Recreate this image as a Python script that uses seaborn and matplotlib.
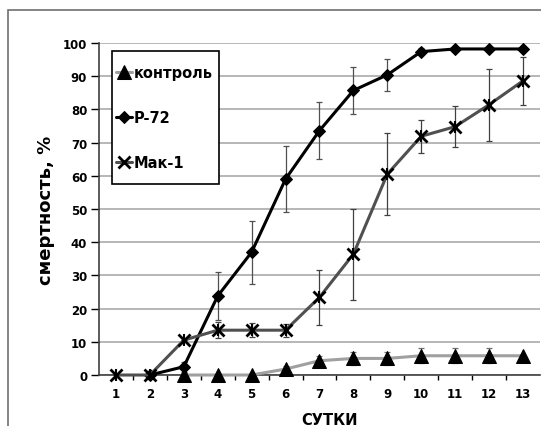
import numpy as np
import seaborn as sns
import matplotlib.pyplot as plt
from matplotlib.patches import Rectangle

sns.set_theme(style="white")
plt.rcParams['font.family'] = ['DejaVu Sans']
plt.rcParams['font.weight'] = 'bold'
plt.rcParams['text.color'] = 'black'
plt.rcParams['axes.labelcolor'] = 'black'
plt.rcParams['xtick.color'] = 'black'
plt.rcParams['ytick.color'] = 'black'

days = list(range(1, 14))
control = [np.nan, np.nan, 0, 0, 0, 1.8, 4.3, 5.0, 5.0, 5.8, 5.8, 5.8, 5.8]
control_err = [np.nan, np.nan, 0, 0, 0, 1.0, 1.5, 2.0, 2.0, 2.2, 2.2, 2.2, 0]
p72 = [np.nan, 0, 2.5, 23.8, 37.0, 59.0, 73.6, 85.7, 90.4, 97.4, 98.2, 98.2, 98.2]
p72_err = [np.nan, 0, 1.5, 7.2, 9.5, 10.0, 8.5, 7.0, 4.8, 1.0, 0, 0, 0]
mak1 = [0, 0, 10.5, 13.5, 13.5, 13.5, 23.4, 36.4, 60.5, 71.9, 74.8, 81.4, 88.6]
mak1_err = [0, 0, 0, 2.5, 2.2, 2.0, 8.3, 13.7, 12.3, 5.0, 6.2, 10.8, 7.3]

labels = ["контроль", "P-72", "Мак-1"]

fig = plt.figure(figsize=(5.41, 4.27), dpi=100)
ax = fig.add_axes([0.183, 0.1194, 0.815, 0.7776])

# outer chart frame
fig.add_artist(Rectangle((8 / 541, -0.1), 1.2, 1.1 - 11 / 427, transform=fig.transFigure,
                         fill=False, edgecolor="#707070", linewidth=1.2))

for y, e, c in [(control, control_err, "#707070"), (p72, p72_err, "#505050"), (mak1, mak1_err, "#404040")]:
    ax.errorbar(days, y, yerr=e, fmt="none", ecolor=c, elinewidth=0.9, capsize=2.5, capthick=0.9, zorder=2)

sns.lineplot(x=days, y=control, ax=ax, color="#a0a0a0", linewidth=2.2, marker="^",
             markersize=10, markerfacecolor="black", markeredgecolor="black", label=labels[0],
             zorder=3, clip_on=False)
sns.lineplot(x=days, y=p72, ax=ax, color="black", linewidth=2.2, marker="D",
             markersize=6.5, markerfacecolor="black", markeredgecolor="black", label=labels[1],
             zorder=4, clip_on=False)
sns.lineplot(x=days, y=mak1, ax=ax, color="#505050", linewidth=2.2, marker="x",
             markersize=8, markeredgewidth=2, markeredgecolor="black", label=labels[2],
             zorder=5, clip_on=False)
ax.plot(days, mak1, linestyle="none", marker="|", markersize=8, markeredgewidth=1.5,
        color="black", zorder=5, clip_on=False)

ax.set_xlim(0.5, 13.5)
ax.set_ylim(0, 100)
ax.set_xticks(days)
ax.set_xticks(np.arange(1.5, 13.5, 1), minor=True)
ax.set_yticks(range(0, 101, 10))
ax.yaxis.grid(True, color="#aaaaaa", linewidth=1.2)
ax.tick_params(axis="x", which="major", length=0, pad=8.5, labelsize=8.5)
ax.tick_params(axis="x", which="minor", length=3.5, width=1, color="black", direction="out", bottom=True)
ax.tick_params(axis="y", length=5.5, width=1, color="black", direction="out", left=True, labelsize=8.5, pad=3)
for lab in ax.get_xticklabels() + ax.get_yticklabels():
    lab.set_fontweight("bold")

for s in ["top", "right"]:
    ax.spines[s].set_visible(False)
ax.spines["left"].set_color("#404040")
ax.spines["bottom"].set_color("#404040")
ax.spines["left"].set_linewidth(1.2)
ax.spines["bottom"].set_linewidth(1.2)

ax.set_xlabel("СУТКИ", fontsize=10.5, fontweight="bold")
ax.xaxis.set_label_coords((330 - 99) / 441, -0.11)
ax.set_ylabel("смертность, %", fontsize=13, fontweight="bold")
ax.yaxis.set_label_coords((55 - 99) / 441, 0.5)

# legend box drawn separately so padding can differ per side
ax.add_patch(Rectangle((0.0295, 0.575), 0.2425, 0.401, transform=ax.transAxes, fill=True,
                       facecolor="white", edgecolor="black", linewidth=1.2, zorder=6))
leg = ax.legend(loc="center left", bbox_to_anchor=(0.031, 0.7755), handlelength=1.15, handletextpad=0.1,
                labelspacing=2.05, borderpad=0.2, borderaxespad=0, frameon=False,
                prop={"weight": "bold", "size": 10.5})
leg.set_zorder(7)

plt.savefig("out.png", dpi=100)
plt.close()
